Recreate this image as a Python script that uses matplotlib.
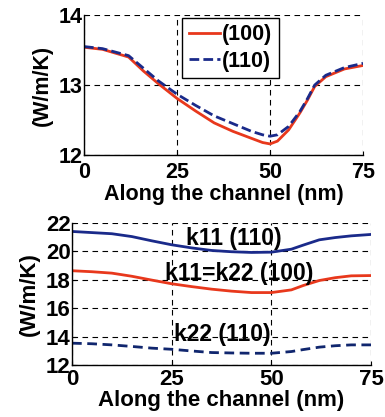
import numpy as np
import matplotlib
matplotlib.use('Agg')
import matplotlib.pyplot as plt

plt.rcParams['font.family'] = ['Liberation Sans', 'DejaVu Sans']
plt.rcParams['font.weight'] = 'bold'
plt.rcParams['axes.labelweight'] = 'bold'
plt.rcParams['font.size'] = 15.5

# top panel: thermal conductivity along the channel
x_top = [0, 5, 12, 16, 20, 25, 30, 35, 40, 45, 48, 50, 52, 55, 58, 60, 62, 65, 70, 75]
k_100 = [13.54, 13.51, 13.40, 13.20, 13.02, 12.81, 12.63, 12.46, 12.34, 12.24, 12.18, 12.16, 12.2, 12.36, 12.6, 12.78, 12.98, 13.12, 13.23, 13.28]
k_110 = [13.55, 13.52, 13.42, 13.24, 13.06, 12.87, 12.71, 12.56, 12.45, 12.34, 12.29, 12.27, 12.29, 12.41, 12.62, 12.8, 13.0, 13.14, 13.25, 13.31]

# bottom panel: tensor components
x_bot = [0, 5, 10, 15, 20, 25, 30, 35, 40, 45, 50, 55, 58, 62, 66, 70, 75]
k11_110 = [21.41, 21.33, 21.25, 21.05, 20.75, 20.47, 20.25, 20.07, 19.98, 19.93, 19.95, 20.16, 20.45, 20.82, 20.98, 21.1, 21.2]
k11_100 = [18.64, 18.57, 18.47, 18.25, 17.98, 17.72, 17.52, 17.34, 17.2, 17.1, 17.1, 17.29, 17.6, 17.95, 18.15, 18.28, 18.3]
k22_110 = [13.53, 13.49, 13.41, 13.3, 13.18, 13.1, 12.98, 12.87, 12.84, 12.82, 12.82, 12.94, 13.08, 13.25, 13.35, 13.41, 13.41]

red = '#e8381c'
blue = '#1a2a8a'
navy = '#10266e'

fig = plt.figure(figsize=(3.85, 4.17), dpi=100)

def style(ax, xt, yt, ylim, fs, xpad, lpad):
    ax.set_xlim(0, 75)
    ax.set_ylim(*ylim)
    ax.set_xticks(xt)
    ax.set_yticks(yt)
    ax.grid(True, color='black', linestyle=(0, (5, 4)), linewidth=0.8)
    ax.spines['top'].set_visible(False)
    ax.spines['right'].set_visible(False)
    ax.spines['left'].set_linewidth(1.0)
    ax.spines['bottom'].set_linewidth(1.0)
    ax.tick_params(axis='x', direction='in', length=3, pad=xpad, labelsize=fs)
    ax.tick_params(axis='y', direction='in', length=3, pad=1, labelsize=fs)
    ax.set_xlabel('Along the channel (nm)', labelpad=lpad, fontweight='bold', fontsize=fs)
    ax.set_ylabel('(W/m/K)', labelpad=4, fontweight='bold', fontsize=fs)

ax1 = fig.add_axes([0.218, 0.628, 0.725, 0.336])
ax1.plot(x_top, k_100, color=red, lw=2, label='(100)')
ax1.plot(x_top, k_110, color=blue, lw=2, ls=(0, (3.5, 1.5)), label='(110)')
style(ax1, [0, 25, 50, 75], [12, 13, 14], (12, 14), 15.5, 5, 1)
leg = ax1.legend(loc='upper left', bbox_to_anchor=(0.352, 0.98), fancybox=False,
                 edgecolor='black', framealpha=1, handlelength=1.45, handletextpad=0.1,
                 borderpad=0.3, labelspacing=0.25, borderaxespad=0,
                 prop={'weight': 'bold', 'size': 15.5})
leg.get_frame().set_linewidth(1.0)

ax2 = fig.add_axes([0.187, 0.125, 0.777, 0.340])
ax2.plot(x_bot, k11_110, color=blue, lw=2)
ax2.plot(x_bot, k11_100, color=red, lw=2)
ax2.plot(x_bot, k22_110, color=navy, lw=2, ls=(0, (3.5, 2)))
style(ax2, [0, 25, 50, 75], [12, 14, 16, 18, 20, 22], (12, 22), 16, 3, 0)
ax2.text(40.5, 20.94, 'k11 (110)', ha='center', va='center', fontweight='bold', fontsize=16.5)
ax2.text(41.8, 18.47, 'k11=k22 (100)', ha='center', va='center', fontweight='bold', fontsize=16.5)
ax2.text(37.6, 14.12, 'k22 (110)', ha='center', va='center', fontweight='bold', fontsize=16.5)

fig.savefig('out.png', dpi=100)
